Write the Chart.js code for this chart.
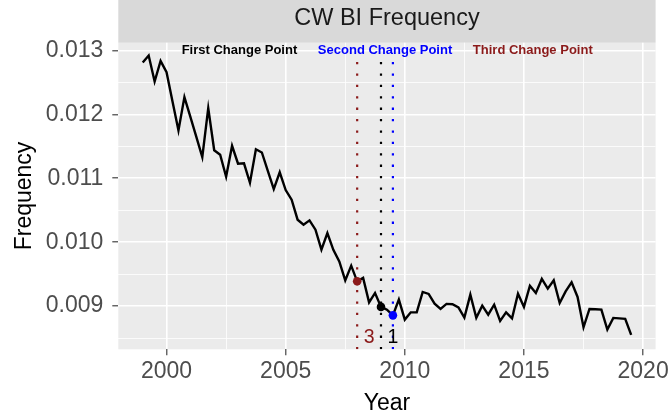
<!DOCTYPE html>
<html>
<head>
<meta charset="utf-8">
<script src="https://cdn.jsdelivr.net/npm/chart.js@4"></script>
<style>
  body { margin: 0; background: #fff; }
  canvas { display: block; }
</style>
</head>
<body>
<canvas id="cpChart" width="672" height="413"></canvas>
<script>
// quarterly CW BI frequency
const years = [
  1999, 1999.25, 1999.5, 1999.75, 2000, 2000.25, 2000.5, 2000.75,
  2001, 2001.25, 2001.5, 2001.75, 2002, 2002.25, 2002.5, 2002.75,
  2003, 2003.25, 2003.5, 2003.75, 2004, 2004.25, 2004.5, 2004.75,
  2005, 2005.25, 2005.5, 2005.75, 2006, 2006.25, 2006.5, 2006.75,
  2007, 2007.25, 2007.5, 2007.75, 2008, 2008.25, 2008.5, 2008.75,
  2009, 2009.25, 2009.5, 2009.75, 2010, 2010.25, 2010.5, 2010.75,
  2011, 2011.25, 2011.5, 2011.75, 2012, 2012.25, 2012.5, 2012.75,
  2013, 2013.25, 2013.5, 2013.75, 2014, 2014.25, 2014.5, 2014.75,
  2015, 2015.25, 2015.5, 2015.75, 2016, 2016.25, 2016.5, 2016.75,
  2017, 2017.25, 2017.5, 2017.75, 2018, 2018.25, 2018.5, 2018.75,
  2019, 2019.25, 2019.5
];
const freq = [
  0.012809, 0.012919, 0.012513, 0.012836, 0.012659, 0.012200, 0.011747, 0.012269,
  0.011961, 0.011648, 0.011331, 0.012097, 0.011438, 0.011367, 0.011023, 0.011508,
  0.011227, 0.011233, 0.010930, 0.011453, 0.011403, 0.011117, 0.010831, 0.011094,
  0.010816, 0.010664, 0.010352, 0.010273, 0.010341, 0.010195, 0.009883, 0.010144,
  0.009880, 0.009700, 0.009403, 0.009633, 0.009388, 0.009441, 0.009059, 0.009206,
  0.008988, 0.008945, 0.008856, 0.009102, 0.008789, 0.008903, 0.008905, 0.009222,
  0.009191, 0.009039, 0.008956, 0.009035, 0.009030, 0.008981, 0.008820, 0.009180,
  0.008818, 0.009008, 0.008867, 0.009023, 0.008769, 0.008903, 0.008809, 0.009195,
  0.008988, 0.009320, 0.009206, 0.009425, 0.009273, 0.009403, 0.009050, 0.009231,
  0.009372, 0.009144, 0.008669, 0.008956, 0.008952, 0.008945, 0.008633, 0.008816,
  0.008809, 0.008800, 0.008550
];

// change points: first, second, third
const changeYears = [2009, 2009.5, 2008];
const changeNames = ['First Change Point', 'Second Change Point', 'Third Change Point'];
const changeLabels = ['1', '', '3'];

const xMajor = [2000, 2005, 2010, 2015, 2020];
const xMinor = [2002.5, 2007.5, 2012.5, 2017.5];
const yMajor = [0.009, 0.010, 0.011, 0.012, 0.013];
const yMinor = [0.0085, 0.0095, 0.0105, 0.0115, 0.0125];

const stripTitle = 'CW BI Frequency';

// styles / placement
const cpColors = ['#000000', '#0000FF', '#8B1A1A'];
const nameX = [2003.06, 2009.17, 2015.37];
const nameY = 0.013;
const labelShift = 0.5;
const labelY = 0.0085;
const xMin = 1997.975, xMax = 2020.525;
const yMin = 0.008325, yMax = 0.01312;
const vlineTop = 0.01292;
const FONT = '"Liberation Sans", Arial, sans-serif';

const series = years.map((y, i) => ({ x: y, y: freq[i] }));
const cpPoints = changeYears.map(y => ({ x: y, y: freq[years.indexOf(y)] }));

const vlines = changeYears.map((y, i) => ({
  data: [{ x: y, y: yMin }, { x: y, y: vlineTop }],
  showLine: true,
  borderColor: cpColors[i],
  borderWidth: 2.2,
  borderDash: [2.3, 9.1],
  pointRadius: 0,
  order: 3
}));

const panelPlugin = {
  id: 'panel',
  beforeDraw(chart) {
    const { ctx, chartArea: a } = chart;
    ctx.save();
    ctx.fillStyle = '#ffffff';
    ctx.fillRect(0, 0, chart.width, chart.height);
    ctx.fillStyle = '#EBEBEB';
    ctx.fillRect(a.left, a.top, a.right - a.left, a.bottom - a.top);
    ctx.fillStyle = '#D9D9D9';
    ctx.fillRect(a.left, 0, a.right - a.left, a.top);
    ctx.fillStyle = '#1A1A1A';
    ctx.font = '23.5px ' + FONT;
    ctx.textAlign = 'center';
    ctx.textBaseline = 'middle';
    ctx.fillText(stripTitle, (a.left + a.right) / 2, 19);
    ctx.restore();
  },
  afterDatasetsDraw(chart) {
    const { ctx, scales: { x, y } } = chart;
    ctx.save();
    ctx.textAlign = 'center';
    ctx.textBaseline = 'middle';
    ctx.font = 'bold 13px ' + FONT;
    changeNames.forEach((n, i) => {
      ctx.fillStyle = cpColors[i];
      ctx.fillText(n, x.getPixelForValue(nameX[i]), y.getPixelForValue(nameY));
    });
    ctx.font = '19.5px ' + FONT;
    changeLabels.forEach((t, i) => {
      if (!t) return;
      ctx.fillStyle = cpColors[i];
      ctx.fillText(t, x.getPixelForValue(changeYears[i] + labelShift), y.getPixelForValue(labelY));
    });
    ctx.restore();
  }
};

const gridOpts = (major) => ({
  color: '#ffffff',
  lineWidth: c => major.includes(c.tick.value) ? 1.6 : 0.8,
  tickColor: c => major.includes(c.tick.value) ? '#333333' : 'rgba(0,0,0,0)',
  tickWidth: 1.1,
  tickLength: 6
});

new Chart(document.getElementById('cpChart'), {
  type: 'scatter',
  data: {
    datasets: [
      {
        data: cpPoints,
        pointRadius: 4.3,
        pointBackgroundColor: cpColors,
        pointBorderWidth: 0,
        order: 1
      },
      {
        data: series,
        showLine: true,
        borderColor: '#000000',
        borderWidth: 2.4,
        pointRadius: 0,
        order: 2
      },
      ...vlines
    ]
  },
  options: {
    responsive: false,
    animation: false,
    events: [],
    layout: { padding: { top: 42.7, right: 14.3, left: 0, bottom: 0 } },
    plugins: { legend: { display: false }, tooltip: { enabled: false } },
    scales: {
      x: {
        type: 'linear',
        min: xMin,
        max: xMax,
        afterBuildTicks: s => { s.ticks = xMajor.concat(xMinor).sort((a, b) => a - b).map(v => ({ value: v })); },
        afterFit: s => { s.height = 63.7; },
        grid: gridOpts(xMajor),
        border: { display: false },
        ticks: {
          autoSkip: false,
          maxRotation: 0,
          padding: 3,
          color: '#4D4D4D',
          font: { family: FONT, size: 23 },
          callback: v => xMajor.includes(v) ? String(v) : ''
        },
        title: {
          display: true,
          text: 'Year',
          color: '#000000',
          font: { family: FONT, size: 23, lineHeight: 0.85 },
          padding: { top: 0, bottom: 0 }
        }
      },
      y: {
        type: 'linear',
        min: yMin,
        max: yMax,
        afterBuildTicks: s => { s.ticks = yMajor.concat(yMinor).sort((a, b) => a - b).map(v => ({ value: v })); },
        afterFit: s => { s.width = 118.3; },
        grid: gridOpts(yMajor),
        border: { display: false },
        ticks: {
          autoSkip: false,
          padding: 9,
          color: '#4D4D4D',
          font: { family: FONT, size: 23 },
          callback: v => yMajor.includes(v) ? v.toFixed(3) : ''
        },
        title: {
          display: true,
          text: 'Frequency',
          color: '#000000',
          font: { family: FONT, size: 23, lineHeight: 1 },
          padding: { top: 13, bottom: 0 }
        }
      }
    }
  },
  plugins: [panelPlugin]
});
</script>
</body>
</html>
